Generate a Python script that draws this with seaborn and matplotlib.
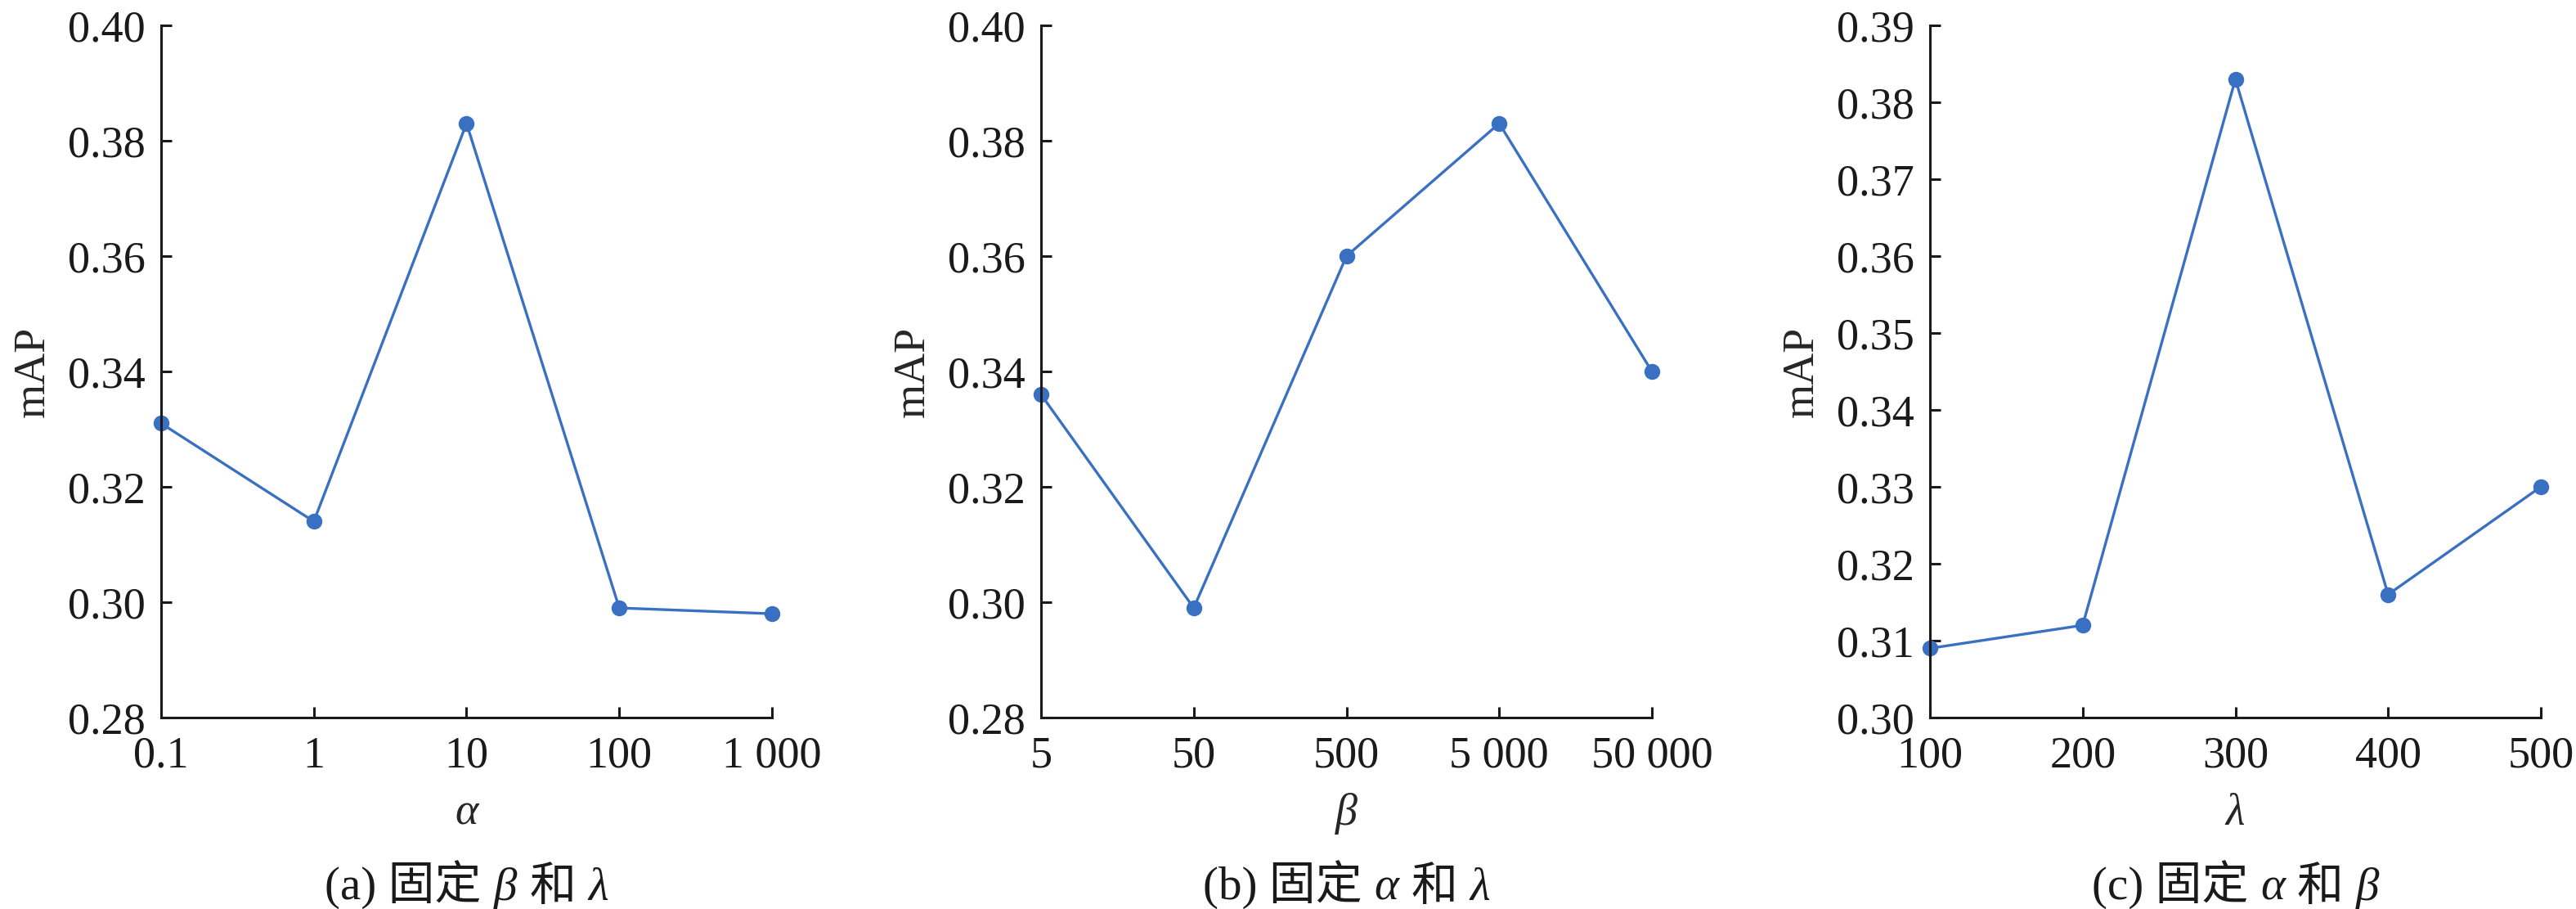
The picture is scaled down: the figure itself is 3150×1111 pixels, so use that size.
import numpy as np
import pandas as pd
import seaborn as sns
import matplotlib
matplotlib.use("Agg")
import matplotlib.pyplot as plt
from matplotlib.ticker import FormatStrFormatter

# data
alpha_labels = ["0.1", "1", "10", "100", "1 000"]
alpha_map = [0.331, 0.314, 0.383, 0.299, 0.298]

beta_labels = ["5", "50", "500", "5 000", "50 000"]
beta_map = [0.336, 0.299, 0.360, 0.383, 0.340]

lam_labels = ["100", "200", "300", "400", "500"]
lam_map = [0.309, 0.312, 0.383, 0.316, 0.330]

sns.set_style("ticks")
plt.rcParams['font.family'] = ['Liberation Serif', 'Noto Sans CJK SC', 'DejaVu Sans']

FS = 39
LINE_COLOR = "#3a70c2"

fig = plt.figure(figsize=(31.5, 11.11), dpi=100)
lefts = [197 / 3150, 1273 / 3150, 2360 / 3150]
width = 747 / 3150
bottom = 1 - 877 / 1111
height = (877 - 31) / 1111

panels = [
    (alpha_labels, alpha_map, "α", (0.28, 0.40, 0.02), ["(a) 固定", "β", "和", "λ"]),
    (beta_labels, beta_map, "β", (0.28, 0.40, 0.02), ["(b) 固定", "α", "和", "λ"]),
    (lam_labels, lam_map, "λ", (0.30, 0.39, 0.01), ["(c) 固定", "α", "和", "β"]),
]

axes = []
for left, (labels, vals, xname, (lo, hi, step), cap) in zip(lefts, panels):
    ax = fig.add_axes([left, bottom, width, height])
    df = pd.DataFrame({"pos": np.arange(len(labels)), "mAP": vals})
    sns.lineplot(data=df, x="pos", y="mAP", ax=ax, color=LINE_COLOR, lw=2.4,
                 marker="o", markersize=14, markeredgewidth=0, clip_on=False)
    ax.set_xlim(0, len(labels) - 1)
    ax.set_ylim(lo, hi)
    ax.set_xticks(np.arange(len(labels)))
    ax.set_xticklabels(labels)
    ax.set_yticks(np.round(np.arange(lo, hi + step / 2, step), 3))
    ax.yaxis.set_major_formatter(FormatStrFormatter("%.2f"))
    sns.despine(ax=ax)
    for s in ["left", "bottom"]:
        ax.spines[s].set_linewidth(2.2)
        ax.spines[s].set_color("#1a1a1a")
    ax.tick_params(axis="both", direction="in", length=9.5, width=2.2,
                   labelsize=FS, colors="#1a1a1a", pad=14)
    ax.tick_params(axis="x", pad=16)
    ax.set_ylabel("mAP", fontsize=FS, labelpad=12)
    ax.set_xlabel(xname, fontsize=FS, style="italic", labelpad=14)
    axes.append((ax, cap))

# captions: mixed upright / italic pieces, centred under each axis
fig.canvas.draw()
r = fig.canvas.get_renderer()
cap_y = 1 - 1100 / 1111
gap = 15
for ax, cap in axes:
    texts = []
    for i, piece in enumerate(cap):
        st = "italic" if i % 2 == 1 else "normal"
        t = fig.text(0, cap_y, piece, fontsize=FS + 2, style=st,
                     ha="left", va="baseline", color="#1a1a1a")
        texts.append(t)
    widths = [t.get_window_extent(renderer=r).width for t in texts]
    total = sum(widths) + gap * (len(texts) - 1)
    bb = ax.get_position()
    cx = (bb.x0 + bb.x1) / 2 * 3150
    x = cx - total / 2
    for t, w in zip(texts, widths):
        t.set_x(x / 3150)
        x += w + gap

fig.savefig("out.png", dpi=100)
